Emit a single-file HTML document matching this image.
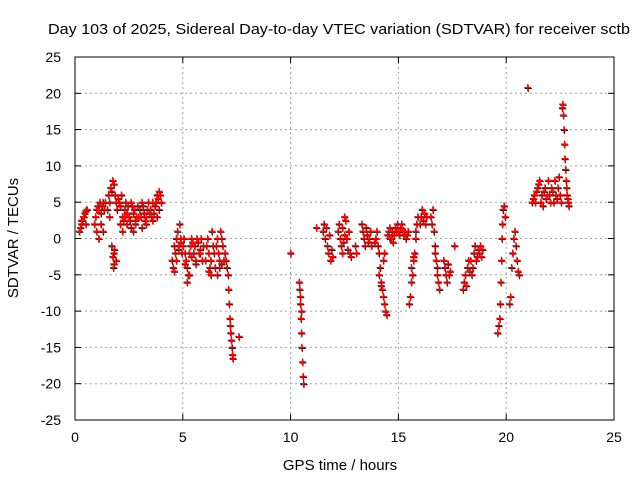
<!DOCTYPE html>
<html><head><meta charset="utf-8"><style>
body{margin:0;background:#fff}
svg text{font-family:"Liberation Sans",sans-serif;font-size:14px;fill:#000}
</style></head><body>
<svg id="chart" width="640" height="480" viewBox="0 0 640 480" xmlns="http://www.w3.org/2000/svg">
<rect width="640" height="480" fill="#fff"/>
<text x="48" y="34" textLength="582" lengthAdjust="spacingAndGlyphs" style="font-size:15px">Day 103 of 2025, Sidereal Day-to-day VTEC variation (SDTVAR) for receiver sctb</text>
<g id="grid"></g>
<g id="ticks"></g>
<g id="marks"></g>
<rect x="75" y="57" width="539" height="363" fill="none" stroke="#000" stroke-width="1"/>
<text x="340" y="470" text-anchor="middle" style="font-size:15px">GPS time / hours</text>
<text x="18" y="238" text-anchor="middle" transform="rotate(-90 18 238)" style="font-size:15px">SDTVAR / TECUs</text>
</svg>
<script>
const xTicks=[0,5,10,15,20,25];
const yTicks=[-25,-20,-15,-10,-5,0,5,10,15,20,25];
const times=[0.2,0.25,0.3,0.35,0.4,0.45,0.5,0.55,0.3,0.4,0.5,
0.9,0.95,1.0,1.05,1.1,1.15,1.2,1.25,1.3,1.35,1.4,1.0,1.1,1.2,1.3,
1.5,1.55,1.6,1.65,1.7,1.75,1.8,1.85,1.9,1.95,2.0,1.6,1.7,1.8,1.9,1.75,1.78,1.8,1.82,
2.05,2.1,2.15,2.2,2.25,2.3,2.35,2.4,2.45,2.1,2.2,2.3,2.4,
2.5,2.55,2.6,2.65,2.7,2.75,2.8,2.85,2.9,2.95,2.6,2.7,2.8,
3.0,3.05,3.1,3.15,3.2,3.25,3.3,3.35,3.4,3.45,3.1,3.3,
3.5,3.55,3.6,3.65,3.7,3.75,3.8,3.85,3.9,3.95,4.0,3.6,3.8,3.9,
4.5,4.55,4.6,4.65,4.7,4.75,4.8,4.85,4.9,4.95,4.6,4.7,4.8,4.9,
5.0,5.05,5.1,5.15,5.2,5.25,5.3,5.35,5.4,5.45,5.1,5.2,5.3,5.4,
5.5,5.55,5.6,5.65,5.7,5.75,5.8,5.85,5.9,5.95,5.6,5.8,
6.05,6.1,6.15,6.2,6.25,6.3,6.35,6.4,6.45,6.2,6.3,
6.5,6.55,6.6,6.65,6.7,6.75,6.8,6.85,6.9,6.95,6.6,6.7,6.8,
7.0,7.05,7.1,7.12,7.15,7.18,7.2,7.22,7.25,7.28,7.3,7.32,7.6,
10.0,10.4,10.42,10.45,10.48,10.5,10.52,10.55,10.58,10.6,10.45,10.5,
11.2,11.5,11.55,11.6,11.65,11.7,11.75,11.8,11.85,11.9,11.95,
12.2,12.25,12.3,12.35,12.4,12.45,12.5,12.55,12.6,12.65,12.7,12.75,12.8,12.4,12.5,
13.0,13.05,13.3,13.35,13.4,13.45,13.5,13.55,13.6,13.65,13.7,13.75,
13.9,13.95,14.0,14.05,14.1,14.15,14.2,14.25,14.3,14.35,14.4,14.45,14.1,14.2,14.3,14.35,
14.5,14.55,14.6,14.65,14.7,14.75,14.8,14.85,14.9,14.95,14.6,14.7,
15.0,15.05,15.1,15.15,15.2,15.25,15.3,15.35,15.4,15.45,
15.5,15.55,15.6,15.65,15.7,15.75,15.8,15.85,15.9,15.6,15.7,15.8,
16.0,16.05,16.1,16.15,16.2,16.25,16.3,
16.5,16.55,16.6,16.65,16.7,16.75,16.8,16.85,16.9,16.7,16.8,
17.1,17.15,17.2,17.25,17.3,17.35,17.4,17.6,
18.0,18.05,18.1,18.15,18.2,18.25,18.3,18.35,18.4,18.45,18.5,18.55,18.6,18.65,18.7,18.75,18.8,18.85,18.9,
19.6,19.65,19.7,19.72,19.75,19.78,19.8,19.82,19.85,19.9,19.95,
20.15,20.2,20.25,20.3,20.35,20.4,20.45,20.5,20.55,20.6,
21.0,
21.2,21.25,21.3,21.35,21.4,21.45,21.5,21.55,21.6,21.65,21.7,21.75,21.8,21.85,21.9,21.95,
22.0,22.05,22.1,22.15,22.2,22.25,22.3,22.35,22.4,22.45,22.5,22.55,
22.6,22.62,22.65,22.68,22.7,22.72,22.75,22.78,22.8,22.82,22.85,22.88,22.9];
const values=[1,1.5,2,2.5,3,3.5,3.8,4,2.5,3,2,
2,3,4,4.5,4,5,3.5,4.5,5,4,5,1,0,2,1,
4,6,5,7,6.5,8,7.5,6,5,4,5.5,3,-1,-2,-3,-2.5,-4,-3.5,-1.5,
5,4.5,6,3,2.5,4,5,3.5,4.5,2,1,3,2,
3,2.5,5,4.5,3.5,4,2,3,4.5,3,1.5,1,2.5,
4,3,5,4.5,3.5,2.5,3,4,5,3.5,1.5,2,
4,3,5,3.5,4.5,5,6,5.5,6.5,6,5,2.5,3,4,
-3,-4,-1,-2,0,1,-1,2,0,-2,-4.5,-3,-1.5,-0.5,
-1,0,-2,-3,-4,-5,-2,-1,0,-0.5,-3.5,-6,-5,-2.5,
-2,-1,-3,0,-0.5,-2,-1.5,0,-3,-1,-3.5,-2,
-3,-1,0,-2,-4,-3,1,-1,-2,-4.5,-5,
-4,-1,0,-2,-3,1,0,-1,-3,-2,-5,-4,-3.5,
-3,-4,-5,-7,-9,-11,-12,-13,-14,-15,-16,-16.5,-13.5,
-2,-6,-7,-9,-11,-13,-15,-17,-19,-20,-8,-10,
1.5,1,2,0,1.5,-1,-2,0.5,-3,-1.5,-2.5,
1,2,0,-1,-2,-0.5,3,2.5,0,-1.5,1,-2,-2.5,1.5,0.5,
-1,-2,2,1,0,-1,1.5,0.5,-0.5,0,1,-1,
-0.5,0,1,-1,-2,-4,-6,-7,-8,-9,-10,-10.5,-5,-6.5,-3,-2,
0.5,1,1.5,0,1,-0.5,0.5,1.5,1,2,0,0.5,
1,0.5,1.5,2,1,0.5,1,0,0.5,1,
-9,-8,-6,-5,-3,-2,0,2,3,-4,-2.5,1,
2,3,4,2.5,3.5,2,3,
3,2,4,1,-1,-3,-5,-6,-7,-2,-4,
-3,-4,-5,-6,-3.5,-5,-4.5,-1,
-7,-6,-5,-6.5,-4,-3,-4.5,-3,-5,-4,-2,-1,-3,-2.5,-1.5,-2,-1,-2.5,-1.5,
-13,-12,-11,-9,-6,-3,0,2,4,4.5,3,
-9,-8,-4,-2,0,1,-1,-3,-4.5,-5,
20.8,
5,5.5,6,5,6.5,7,7.5,8,5,6,4.5,6.5,7,5.5,6,8,
6,5,7,6.5,5,8,6,5.5,7,8.5,6,5,
18,18.5,17,15,13,11,9.5,8,7,6,5.5,5,4.5];
const X=t=>75+t*(539/25);
const Y=v=>420-(v+25)*(363/50);
const NS="http://www.w3.org/2000/svg";
const grid=document.getElementById('grid'),ticks=document.getElementById('ticks'),marks=document.getElementById('marks');
function ln(p,x1,y1,x2,y2,s,d,w){const l=document.createElementNS(NS,'line');l.setAttribute('x1',x1);l.setAttribute('y1',y1);l.setAttribute('x2',x2);l.setAttribute('y2',y2);l.setAttribute('stroke',s);l.setAttribute('stroke-width',w||1);if(d)l.setAttribute('stroke-dasharray',d);p.appendChild(l);return l;}
function tx(x,y,s,a){const t=document.createElementNS(NS,'text');t.setAttribute('x',x);t.setAttribute('y',y);t.setAttribute('text-anchor',a);t.textContent=s;ticks.appendChild(t);return t;}
xTicks.forEach(v=>{const x=X(v);
 if(v>0&&v<25){const g=ln(grid,x,57,x,420,'#a0a0a0','2,3');}
 ln(ticks,x,420,x,414,'#000');ln(ticks,x,57,x,63,'#000');
 const t=tx(x,442,String(v),'middle');});
yTicks.forEach(v=>{const y=Y(v);
 if(v>-25&&v<25){const g=ln(grid,75,y,614,y,'#a0a0a0','2,3');}
 ln(ticks,75,y,81,y,'#000');ln(ticks,614,y,608,y,'#000');
 const t=tx(61,y+5,String(v),'end');});
function plus(x,y,c,w){const g=document.createElementNS(NS,'g');
 ln(g,x-3.5,y,x+3.5,y,c,null,w);ln(g,x,y-3.5,x,y+3.5,c,null,w);marks.appendChild(g);return g;}
times.forEach((t,i)=>{const g=plus(X(t)+0.5,Y(values[i])+1,'#000',1);
 
 });
times.forEach((t,i)=>{const g=plus(X(t),Y(values[i]),'#ff0000',1.3);
 
 });
</script>
</body></html>
